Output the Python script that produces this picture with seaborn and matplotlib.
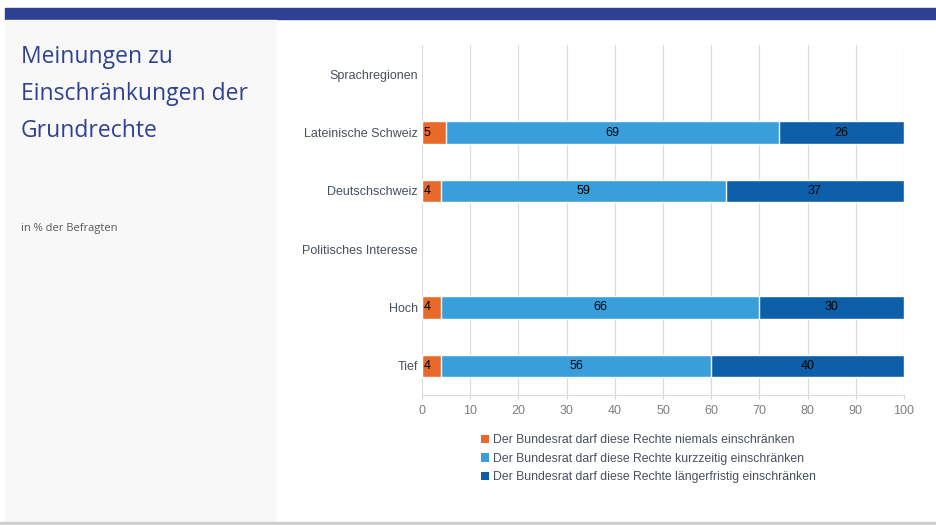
import pandas as pd
import numpy as np
import matplotlib
matplotlib.use('Agg')
import matplotlib.pyplot as plt
import seaborn as sns
from matplotlib.patches import Rectangle, Patch

# Daten aus dem Bild
categories = ['Sprachregionen', 'Lateinische Schweiz', 'Deutschschweiz',
              'Politisches Interesse', 'Hoch', 'Tief']
niemals = [np.nan, 5, 4, np.nan, 4, 4]
kurzzeitig = [np.nan, 69, 59, np.nan, 66, 56]
laengerfristig = [np.nan, 26, 37, np.nan, 30, 40]
series_names = ['Der Bundesrat darf diese Rechte niemals einschränken',
                'Der Bundesrat darf diese Rechte kurzzeitig einschränken',
                'Der Bundesrat darf diese Rechte längerfristig einschränken']
colors = ['#E8692A', '#389FDA', '#0E5FAA']

df = pd.DataFrame({'Kategorie': categories, 'niemals': niemals,
                   'kurzzeitig': kurzzeitig, 'laenger': laengerfristig})
df['cum1'] = df['niemals']
df['cum2'] = df['niemals'] + df['kurzzeitig']
df['cum3'] = df['cum2'] + df['laenger']

sns.set_style('white')
plt.rcParams['font.family'] = ['Liberation Sans', 'DejaVu Sans']

fig = plt.figure(figsize=(9.36, 5.25), dpi=100)
W, H = 936, 525

# Hintergrund: blaues Band oben, graues Panel links, Linie unten
fig.patches.append(Rectangle((5 / W, 1 - 19 / H), 1 - 5 / W, 11 / H,
                             transform=fig.transFigure, color='#2E4093', zorder=0))
fig.patches.append(Rectangle((5 / W, 1 - 522 / H), 271 / W, 502 / H,
                             transform=fig.transFigure, color='#F8F8F8', zorder=0))
fig.patches.append(Rectangle((0, 0), 1, 3 / H,
                             transform=fig.transFigure, color='#CFCFCF', zorder=0))

fig.text(21 / W, 1 - 45 / H, 'Meinungen zu\nEinschränkungen der\nGrundrechte',
         fontsize=16.5, color='#2E4195', family='Open Sans', va='top',
         ha='left', linespacing=1.72)
fig.text(21 / W, 1 - 228 / H, 'in % der Befragten', fontsize=8,
         color='#595959', family='Open Sans', va='center')

ax = fig.add_axes([422 / W, 1 - 395 / H, 482 / W, 350 / H])
ax.set_facecolor('none')

# gestapelte Balken: kumulierte Summen übereinander zeichnen
for col, c in zip(['cum3', 'cum2', 'cum1'], colors[::-1]):
    sns.barplot(data=df, y='Kategorie', x=col, order=categories, orient='h',
                color=c, width=0.38, ax=ax, saturation=1, zorder=3)

# Beschriftungen
for i, row in df.iterrows():
    if np.isnan(row['niemals']):
        continue
    ax.text(0.3, i, f"{int(row['niemals'])}", ha='left', va='center',
            fontsize=9, color='black', zorder=5)
    ax.text(row['cum1'] + row['kurzzeitig'] / 2, i, f"{int(row['kurzzeitig'])}",
            ha='center', va='center', fontsize=9, color='black', zorder=5)
    ax.text(row['cum2'] + row['laenger'] / 2, i, f"{int(row['laenger'])}",
            ha='center', va='center', fontsize=9, color='black', zorder=5)

ax.set_xlim(0, 100)
ax.set_ylim(5.5, -0.5)
ax.set_xticks(range(0, 101, 10))
ax.xaxis.grid(True, color='#D9D9D9', linewidth=0.8, zorder=0)
ax.set_axisbelow(True)
ax.set_xlabel('')
ax.set_ylabel('')
for s in ['top', 'right', 'left']:
    ax.spines[s].set_visible(False)
ax.spines['bottom'].set_color('#D9D9D9')
ax.tick_params(axis='x', colors='#D9D9D9', length=3, width=0.8, labelcolor='#7F7F7F',
               labelsize=9, pad=4, direction='out', bottom=True)
ax.tick_params(axis='y', length=0, labelcolor='#46505E', labelsize=9, pad=3)

handles = [Patch(facecolor=c, edgecolor='none') for c in colors]
fig.legend(handles, series_names, loc='upper left',
           bbox_to_anchor=(470 / W, 1 - 423 / H), frameon=False, fontsize=8.8,
           handlelength=0.65, handleheight=0.65, handletextpad=0.35,
           labelspacing=0.55, labelcolor='#46505E')

fig.savefig('out.png', dpi=100)
